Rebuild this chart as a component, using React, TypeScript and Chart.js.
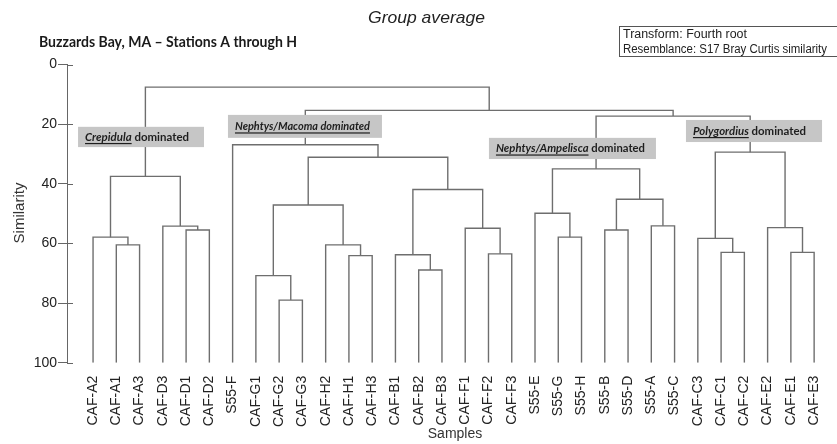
import React, { useEffect, useRef } from "react";
import { Chart, registerables } from "chart.js";

Chart.register(...registerables);

// ---- Data ----
const samples = [
  "CAF-A2", "CAF-A1", "CAF-A3", "CAF-D3", "CAF-D1", "CAF-D2", "S55-F",
  "CAF-G1", "CAF-G2", "CAF-G3", "CAF-H2", "CAF-H1", "CAF-H3",
  "CAF-B1", "CAF-B2", "CAF-B3", "CAF-F1", "CAF-F2", "CAF-F3",
  "S55-E", "S55-G", "S55-H", "S55-B", "S55-D", "S55-A", "S55-C",
  "CAF-C3", "CAF-C1", "CAF-C2", "CAF-E2", "CAF-E1", "CAF-E3",
];

// Linkage: merge k creates node id 32 + k from (mergeLeft[k], mergeRight[k]) at mergeSimilarity[k]
const mergeLeft = [1, 0, 4, 3, 33, 8, 7, 11, 10, 38, 14, 13, 17, 16, 43, 41, 6, 20, 19, 22, 24, 51, 50, 27, 26, 30, 29, 56, 54, 48, 36];
const mergeRight = [2, 32, 5, 34, 35, 9, 37, 12, 39, 40, 15, 42, 18, 44, 45, 46, 47, 21, 49, 23, 25, 52, 53, 28, 55, 31, 57, 58, 59, 60, 61];
const mergeSimilarity = [60.5, 57.9, 55.5, 54.2, 37.5, 79.0, 70.8, 64.1, 60.5, 47.1, 68.9, 63.8, 63.5, 54.9, 41.9, 31.1, 26.9, 57.9, 49.9, 55.5, 54.1, 45.2, 35.0, 63.0, 58.3, 63.0, 54.7, 29.4, 17.3, 15.4, 7.6];

const yTicks = [0, 20, 40, 60, 80, 100];

const titleText = "Group average";
const subtitleText = "Buzzards Bay, MA \u2013 Stations A through H";
const infoLines = ["Transform: Fourth root", "Resemblance: S17 Bray Curtis similarity"];
const xTitle = "Samples";
const yTitle = "Similarity";

const groupLabels = [
  { italic: "Crepidula", plain: " dominated" },
  { italic: "Nephtys/Macoma dominated", plain: "" },
  { italic: "Nephtys/Ampelisca", plain: " dominated" },
  { italic: "Polygordius", plain: " dominated" },
];
// box placement in data units (x: sample index, y: similarity)
const groupBoxes = [
  { x0: -0.645, x1: 4.77, y0: 20.9, y1: 27.7, textWidth: 104 },
  { x0: 5.8, x1: 12.42, y0: 16.9, y1: 24.6, textWidth: 135 },
  { x0: 17.02, x1: 24.2, y0: 24.6, y1: 31.7, textWidth: 149 },
  { x0: 25.49, x1: 31.34, y0: 18.6, y1: 26.0, textWidth: 113 },
];

const ARIAL = "'Liberation Sans', Arial, sans-serif";
const LINE_COLOR = "#6e6e6e";

function buildDatasets() {
  const n = samples.length;
  const nodeX: number[] = samples.map((_, i) => i);
  const nodeH: number[] = samples.map(() => 100);
  const datasets: any[] = [];
  for (let k = 0; k < mergeLeft.length; k++) {
    const l = mergeLeft[k];
    const r = mergeRight[k];
    const h = mergeSimilarity[k];
    nodeX[n + k] = (nodeX[l] + nodeX[r]) / 2;
    nodeH[n + k] = h;
    datasets.push({
      data: [
        { x: nodeX[l], y: nodeH[l] },
        { x: nodeX[l], y: h },
        { x: nodeX[r], y: h },
        { x: nodeX[r], y: nodeH[r] },
      ],
      borderColor: LINE_COLOR,
      borderWidth: 1.4,
      pointRadius: 0,
      fill: false,
      tension: 0,
    });
  }
  return datasets;
}

function fitText(ctx: CanvasRenderingContext2D, text: string, x: number, y: number, width: number) {
  const w = ctx.measureText(text).width;
  ctx.save();
  ctx.translate(x, y);
  ctx.scale(width / w, 1);
  ctx.fillText(text, 0, 0);
  ctx.restore();
}

const decorPlugin = {
  id: "decor",
  afterDraw(chart: any) {
    const ctx: CanvasRenderingContext2D = chart.ctx;
    const xs = chart.scales.x;
    const ys = chart.scales.y;
    ctx.save();

    // inner part of y ticks
    ctx.strokeStyle = "#666";
    ctx.lineWidth = 1;
    yTicks.forEach((t) => {
      const py = Math.round(ys.getPixelForValue(t)) + 0.5;
      ctx.beginPath();
      ctx.moveTo(chart.chartArea.left, py);
      ctx.lineTo(chart.chartArea.left + 6, py);
      ctx.stroke();
    });

    // titles
    ctx.fillStyle = "#222";
    ctx.textBaseline = "alphabetic";
    ctx.textAlign = "left";
    ctx.font = `italic 17px ${ARIAL}`;
    fitText(ctx, titleText, 368, 23, 117);

    ctx.fillStyle = "#1a1a1a";
    ctx.font = `bold 15px Lato, 'Open Sans', sans-serif`;
    fitText(ctx, subtitleText, 39, 47, 258);

    // info box
    ctx.strokeStyle = "#555";
    ctx.lineWidth = 1;
    ctx.strokeRect(619.5, 26.5, 220, 30);
    ctx.fillStyle = "#222";
    ctx.font = `12px ${ARIAL}`;
    fitText(ctx, infoLines[0], 623, 38, 124);
    fitText(ctx, infoLines[1], 623, 53, 204);

    // axis titles
    ctx.font = `15px ${ARIAL}`;
    ctx.fillStyle = "#333";
    ctx.save();
    ctx.translate(24, 213);
    ctx.rotate(-Math.PI / 2);
    ctx.textAlign = "center";
    ctx.fillText(yTitle, 0, 0);
    ctx.restore();

    ctx.font = `14px ${ARIAL}`;
    ctx.textAlign = "center";
    ctx.fillText(xTitle, 455, 438);

    // group label boxes
    groupBoxes.forEach((b, i) => {
      const lab = groupLabels[i];
      const left = xs.getPixelForValue(b.x0);
      const right = xs.getPixelForValue(b.x1);
      const top = ys.getPixelForValue(b.y0);
      const bottom = ys.getPixelForValue(b.y1);
      ctx.fillStyle = "#c6c6c6";
      ctx.fillRect(left, top, right - left, bottom - top);

      const itFont = `italic bold 11px Lato, 'Open Sans', sans-serif`;
      const plFont = `bold 11px Lato, 'Open Sans', sans-serif`;
      ctx.font = itFont;
      const wi = ctx.measureText(lab.italic).width;
      ctx.font = plFont;
      const wp = lab.plain ? ctx.measureText(lab.plain).width : 0;
      const s = b.textWidth / (wi + wp);
      const tx = left + 7;
      const ty = (top + bottom) / 2 + 4;
      ctx.save();
      ctx.translate(tx, ty);
      ctx.scale(s, 1);
      ctx.textAlign = "left";
      ctx.fillStyle = "#1e1e1e";
      ctx.font = itFont;
      ctx.fillText(lab.italic, 0, 0);
      ctx.fillRect(0, 2, wi, 1.2);
      if (lab.plain) {
        ctx.font = plFont;
        ctx.fillText(lab.plain, wi, 0);
      }
      ctx.restore();
    });

    ctx.restore();
  },
};

export default function App() {
  const ref = useRef<HTMLCanvasElement | null>(null);
  useEffect(() => {
    if (!ref.current) return;
    const chart = new Chart(ref.current, {
      type: "line",
      data: { datasets: buildDatasets() },
      options: {
        animation: false,
        responsive: false,
        devicePixelRatio: 1,
        layout: { padding: { top: 64.5, left: 0, right: 1, bottom: 0 } },
        plugins: {
          legend: { display: false },
          tooltip: { enabled: false },
          title: { display: false },
        },
        scales: {
          x: {
            type: "linear",
            min: -1.12,
            max: 31.94,
            grid: { display: false },
            border: { display: false },
            afterBuildTicks: (s: any) => {
              s.ticks = samples.map((_, i) => ({ value: i }));
            },
            afterFit: (s: any) => {
              s.height = 81.3;
            },
            ticks: {
              autoSkip: false,
              minRotation: 90,
              maxRotation: 90,
              padding: 5,
              color: "#222",
              font: { family: ARIAL, size: 14 },
              callback: (v: any) => samples[v] ?? "",
            },
          },
          y: {
            type: "linear",
            reverse: true,
            min: 0,
            max: 100,
            afterBuildTicks: (s: any) => {
              s.ticks = yTicks.map((v) => ({ value: v }));
            },
            afterFit: (s: any) => {
              s.width = 67;
            },
            grid: { drawOnChartArea: false, tickLength: 9, color: "#666" },
            border: { display: true, color: "#666", width: 1 },
            ticks: {
              padding: 1,
              color: "#222",
              font: { family: ARIAL, size: 14 },
            },
          },
        },
      },
      plugins: [decorPlugin],
    } as any);
    return () => chart.destroy();
  }, []);
  return (
    <div style={{ position: "fixed", left: 0, top: 0, width: 837, height: 444, background: "#fff" }}>
      <canvas ref={ref} width={837} height={444} style={{ display: "block" }} />
    </div>
  );
}
